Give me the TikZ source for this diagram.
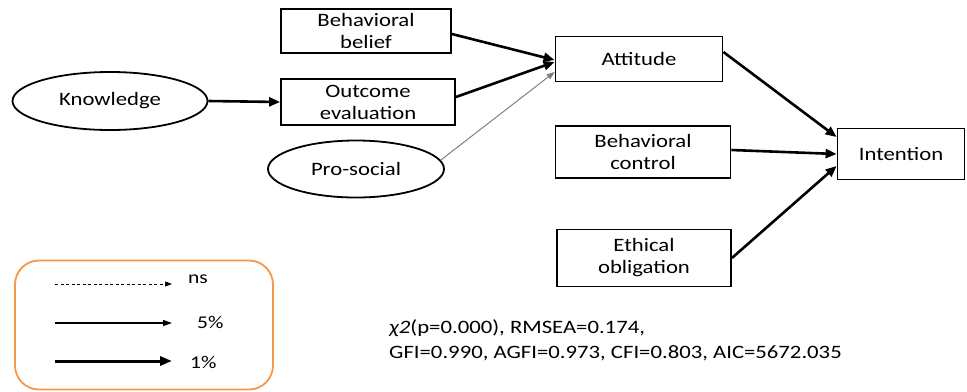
\documentclass[tikz,border=0pt]{standalone}
\usepackage{fontspec}
\setmainfont{Carlito}[FakeStretch=1.2]
\usetikzlibrary{arrows.meta,shapes.geometric}
\definecolor{legendorange}{RGB}{247,150,70}

\begin{document}
\begin{tikzpicture}[x=1bp,y=-1bp,
  every node/.style={inner sep=0pt},
  box/.style={draw,line width=1.8bp,align=center,
    font=\fontsize{19}{22}\selectfont},
  oval/.style={draw,ellipse,line width=1.8bp,
    font=\fontsize{19}{22}\selectfont},
  strong/.style={line width=2.6bp,-{Triangle[length=11bp,width=9bp]}},
  weak/.style={line width=1bp,gray,-{Triangle[length=8bp,width=6bp]}},
  lbl/.style={font=\fontsize{18}{20}\selectfont,anchor=base west},
  stats/.style={font=\fontsize{19}{25}\selectfont,align=left,anchor=base west}]
  \useasboundingbox (0,0) rectangle (967,391);

  % model nodes
  \node[box,minimum width=170bp,minimum height=44bp] (bb) at (366,31) {Behavioral\\belief};
  \node[box,minimum width=174bp,minimum height=46bp] (oe) at (368,102) {Outcome\\evaluation};
  \node[oval,minimum width=195bp,minimum height=58bp] (kn) at (110,101) {Knowledge};
  \node[oval,minimum width=176bp,minimum height=57bp] (ps) at (356,169) {Pro-social};
  \node[box,minimum width=167bp,minimum height=45bp] (att) at (639,59) {Attitude};
  \node[box,minimum width=175bp,minimum height=52bp] (bc) at (643,152) {Behavioral\\control};
  \node[box,minimum width=174bp,minimum height=57bp] (eo) at (644,258) {Ethical\\obligation};
  \node[box,minimum width=127bp,minimum height=51bp] (int) at (901,154) {Intention};

  % paths
  \draw[strong] (kn.east) -- (oe.west);
  \draw[strong] ([yshift=-3bp]bb.east) -- ([yshift=-1bp]att.west);
  \draw[strong] ([yshift=5bp]oe.east) -- ([yshift=-3bp]att.west);
  \draw[weak] (ps.6) -- ([yshift=-13bp]att.west);
  \draw[strong] ([yshift=7bp]att.east) -- ([yshift=17bp]int.west);
  \draw[strong] ([yshift=2bp]bc.east) -- (int.west);
  \draw[strong] (eo.east) -- ([yshift=-12bp]int.west);

  % legend
  \node[draw=legendorange,line width=1.8bp,rounded corners=24bp,
        minimum width=258bp,minimum height=129bp] (leg) at (144,325) {};
  \coordinate (ns0) at (55,284);  \coordinate (ns1) at (172,284);
  \coordinate (f0) at (55,323);   \coordinate (f1) at (172,323);
  \coordinate (o0) at (55,361);   \coordinate (o1) at (172,361);
  \draw[line width=0.7bp,dashed,dash pattern=on 3bp off 2.5bp,
        -{Triangle[length=7bp,width=5bp]}] (ns0) -- (ns1);
  \draw[line width=1.3bp,-{Triangle[length=9bp,width=6bp]}] (f0) -- (f1);
  \draw[line width=3bp,-{Triangle[length=12bp,width=9bp]}] (o0) -- (o1);
  \node[lbl] (lns) at (188,283) {ns};
  \node[lbl] (l5) at (197,328) {5\%};
  \node[lbl] (l1) at (190,368) {1\%};

  % fit indices
  \node[stats] (fit) at (389,358) {{\itshape χ2}(p=0.000), RMSEA=0.174,\\GFI=0.990, AGFI=0.973, CFI=0.803, AIC=5672.035};
\end{tikzpicture}
\end{document}
